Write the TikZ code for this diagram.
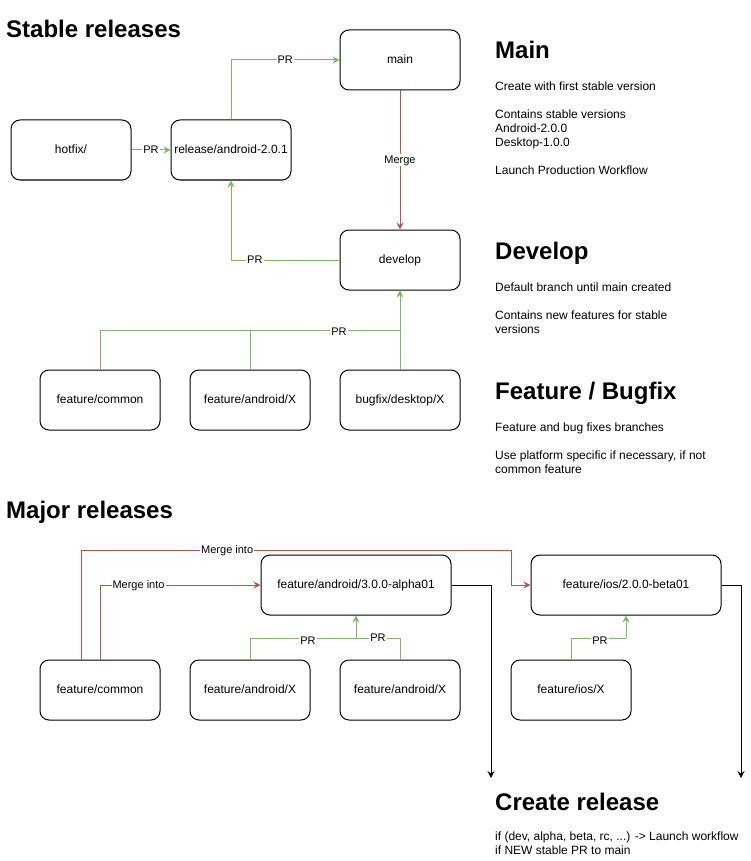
\documentclass[tikz,border=0pt]{standalone}
\usepackage{fontspec}
\setmainfont{Liberation Sans}
\usetikzlibrary{arrows.meta,calc}
\definecolor{prgreen}{HTML}{82B366}
\definecolor{mgred}{HTML}{B85450}
\begin{document}
\begin{tikzpicture}[x=1pt,y=-1pt,
  box/.style={draw,line width=1pt,rounded corners=9pt,minimum width=120pt,minimum height=60pt,
    inner sep=0pt,font=\fontsize{12}{14}\selectfont,text height=8.6pt,text depth=1pt},
  wbox/.style={box,minimum width=190pt},
  lbl/.style={fill=white,inner sep=1pt,font=\fontsize{11}{13}\selectfont,text=black,
    text height=8pt,text depth=1.5pt},
  tip/.style={-{Stealth[length=7pt,width=7pt,inset=2.5pt]}},
  pr/.style={draw=prgreen,line width=1pt,tip},
  prl/.style={draw=prgreen,line width=1pt},
  mg/.style={draw=mgred,line width=1pt,tip},
  blk/.style={draw=black,line width=1pt,tip},
  head/.style={anchor=base west,inner sep=0pt,font=\bfseries\fontsize{24}{28}\selectfont},
  body/.style={anchor=base west,inner sep=0pt,font=\fontsize{12}{14}\selectfont}]
\useasboundingbox[fill=white] (0,0) rectangle (751,861);

% ---------- Stable releases ----------
\node[head] (tstable) at (6,38) {Stable releases};
\node[box] (main) at (400,60) {main};
\node[box] (hotfix) at (71,150) {hotfix/};
\node[box] (rel) at (231,150) {release/android-2.0.1};
\node[box] (develop) at (400,260) {develop};
\node[box] (fc) at (100,400) {feature/common};
\node[box] (fa) at (250,400) {feature/android/X};
\node[box] (bf) at (400,400) {bugfix/desktop/X};

\coordinate (j1) at (400,330);

\draw[pr] (rel.north) |- node[lbl,pos=0.75]{PR} (main.west);
\draw[pr] (hotfix.east) -- node[lbl]{PR} (rel.west);
\draw[mg] (main.south) -- node[lbl]{Merge} (develop.north);
\draw[pr] (develop.west) -| node[lbl,pos=0.39]{PR} (rel.south);
\draw[prl] (fc.north) |- (j1);
\draw[prl] (fa.north) -- (fa.north |- j1);
\draw[pr] (bf.north) -- (develop.south);
\node[lbl,yshift=-2pt] (lprf) at (339,330) {PR};

% ---------- right-hand notes ----------
\node[head] (hmain) at (495,59) {Main};
\node[body] (m1) at (495,91) {Create with first stable version};
\node[body] (m2) at (495,119) {Contains stable versions};
\node[body] (m3) at (495,133) {Android-2.0.0};
\node[body] (m4) at (495,147) {Desktop-1.0.0};
\node[body] (m5) at (495,175) {Launch Production Workflow};

\node[head] (hdev) at (495,259) {Develop};
\node[body] (d1) at (495,291) {Default branch until main created};
\node[body] (d2) at (495,319) {Contains new features for stable};
\node[body] (d3) at (495,333) {versions};

\node[head] (hfeat) at (495,399) {Feature / Bugfix};
\node[body] (f1) at (495,431) {Feature and bug fixes branches};
\node[body] (f2) at (495,459) {Use platform specific if necessary, if not};
\node[body] (f3) at (495,473) {common feature};

% ---------- Major releases ----------
\node[head] (tmajor) at (6,518) {Major releases};
\node[wbox] (alpha) at (356,585) {feature/android/3.0.0-alpha01};
\node[wbox] (ios) at (626,585) {feature/ios/2.0.0-beta01};
\node[box] (fc2) at (100,690) {feature/common};
\node[box] (fa2) at (250,690) {feature/android/X};
\node[box] (fa3) at (400,690) {feature/android/X};
\node[box] (iosx) at (571,690) {feature/ios/X};

\coordinate (mtop) at (511,550);
\coordinate (j2) at (356,638);
\coordinate (j3) at (626,638);
\coordinate (e1) at (491,778);
\coordinate (e2) at (741,778);

\draw[mg] ($(fc2.north)+(-19,0)$) |- node[lbl,pos=0.67]{Merge into} (mtop) |- (ios.west);
\draw[mg] (fc2.north) |- node[lbl,pos=0.62]{Merge into} (alpha.west);

\draw[prl] (fa2.north) |- (j2);
\draw[prl] (fa3.north) |- (j2);
\draw[pr] (j2) -- (alpha.south);
\node[lbl,yshift=-3pt] (lpra) at (308,638) {PR};
\node[lbl] (lprb) at (378,638) {PR};

\draw[prl] (iosx.north) |- (j3);
\draw[pr] (j3) -- (ios.south);
\node[lbl,yshift=-3pt] (lprc) at (600,638) {PR};

\draw[blk] (alpha.east) -| (e1);
\draw[blk] (ios.east) -| (e2);

\node[head] (hrel) at (495,810) {Create release};
\node[body] (r1) at (495,840) {if (dev, alpha, beta, rc, ...) -> Launch workflow};
\node[body] (r2) at (495,854) {if NEW stable PR to main};
\end{tikzpicture}
\end{document}
